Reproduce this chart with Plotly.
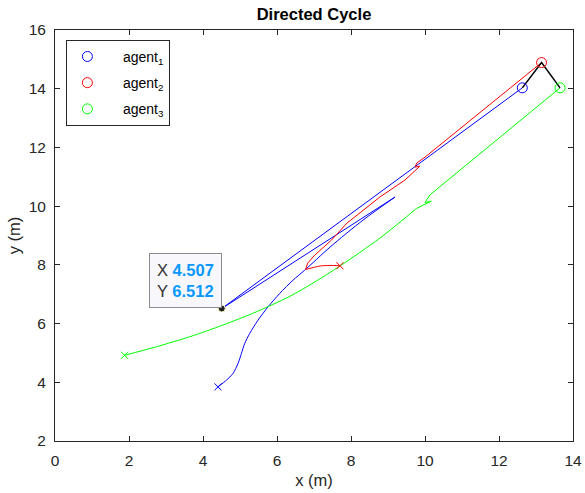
import plotly.graph_objects as go

# ---- data ----
blue_x = [4.405, 4.632, 4.811, 4.946, 5.038, 5.127, 5.262, 5.487, 5.758, 6.074, 6.434, 6.75, 7.43, 8.32, 9.19, 4.507, 12.63]
blue_y = [3.843, 4.071, 4.300, 4.640, 4.981, 5.322, 5.663, 6.116, 6.569, 7.026, 7.479, 7.82, 8.60, 9.52, 10.31, 6.512, 14.03]

red_x = [7.70, 7.43, 7.16, 6.89, 6.77, 6.83, 7.02, 7.24, 7.47, 7.89, 8.78, 9.46, 9.86, 9.73, 9.78, 10.00, 13.15]
red_y = [7.97, 7.98, 7.96, 7.88, 7.84, 8.06, 8.33, 8.57, 8.84, 9.42, 10.31, 10.89, 11.36, 11.33, 11.47, 11.67, 14.89]

green_x = [1.88, 2.74, 3.64, 4.54, 5.44, 6.35, 7.00, 7.70, 8.78, 9.77, 10.17, 10.00, 10.13, 13.65]
green_y = [4.92, 5.21, 5.55, 5.95, 6.40, 6.93, 7.40, 7.96, 8.91, 9.92, 10.17, 10.12, 10.38, 14.03]

names = ["agent<sub>1</sub>", "agent<sub>2</sub>", "agent<sub>3</sub>"]
colors = ["#0000ff", "#ff0000", "#00ff00"]

tip_x = [4.507]
tip_y = [6.512]

FONT = "Liberation Sans, Arial, sans-serif"
NB = "\u00a0"

fig = go.Figure()

paths = [(blue_x, blue_y), (red_x, red_y), (green_x, green_y)]
# index where each path's smooth part ends (sharp turns afterwards)
smooth_end = [14, 4, 9]

for (px, py), c, k in zip(paths, colors, smooth_end):
    fig.add_trace(go.Scatter(x=px[:k + 1], y=py[:k + 1], mode="lines",
                             line=dict(color=c, width=1, shape="spline", smoothing=0.8),
                             showlegend=False, hoverinfo="skip"))
    fig.add_trace(go.Scatter(x=px[k:], y=py[k:], mode="lines",
                             line=dict(color=c, width=1),
                             showlegend=False, hoverinfo="skip"))

# formation links (black)
fig.add_trace(go.Scatter(x=[blue_x[-1], red_x[-1], green_x[-1]],
                         y=[blue_y[-1], red_y[-1], green_y[-1]],
                         mode="lines", line=dict(color="black", width=1.5),
                         showlegend=False, hoverinfo="skip"))

for (px, py), c in zip(paths, colors):
    fig.add_trace(go.Scatter(x=[px[0]], y=[py[0]], mode="markers",
                             marker=dict(symbol="x-thin-open", size=7, color=c,
                                         line=dict(color=c, width=1)),
                             showlegend=False, hoverinfo="skip"))

for i, ((px, py), c, n) in enumerate(zip(paths, colors, names)):
    fig.add_trace(go.Scatter(x=[px[-1]], y=[py[-1]], mode="markers", name=NB * 4 + n,
                             legendgroup=f"g{i}",
                             marker=dict(symbol="circle-open", size=10, color=c,
                                         line=dict(color=c, width=1))))

# datatip dot
fig.add_trace(go.Scatter(x=tip_x, y=tip_y, mode="markers",
                         marker=dict(size=7, color="#222222",
                                     line=dict(color="#ffffc8", width=1)),
                         showlegend=False, hoverinfo="skip"))

val_col = "#0a98ff"
fig.add_annotation(
    x=tip_x[0], y=tip_y[0], xref="x", yref="y", showarrow=False,
    xanchor="right", yanchor="bottom", xshift=0, yshift=1,
    align="left",
    text=(f"<span style='color:#333333'>X</span> <b style='color:{val_col}'>{tip_x[0]:.3f}</b><br>"
          f"<span style='color:#333333'>Y</span> <b style='color:{val_col}'>{tip_y[0]:.3f}</b>"),
    font=dict(family=FONT, size=16.5, color="#333333"),
    bgcolor="#f8f8fc", bordercolor="#8c8c8c", borderwidth=1, borderpad=7,
)

axis_common = dict(
    showline=True, linecolor="#262626", linewidth=1, mirror="ticks",
    ticks="inside", ticklen=5, tickcolor="#262626", tickwidth=1,
    showgrid=False, zeroline=False, ticklabelstandoff=5, automargin=False,
    tickfont=dict(family=FONT, size=15.5, color="#262626"),
)

fig.update_layout(
    width=585, height=493,
    margin=dict(l=55, r=12, t=30, b=52),
    paper_bgcolor="white", plot_bgcolor="white",
    title=dict(text="<b>Directed Cycle</b>", x=0.5, xref="paper", xanchor="center",
               y=1, yref="paper", yanchor="bottom", pad=dict(b=10),
               font=dict(family=FONT, size=16.5, color="black")),
    xaxis=dict(range=[0, 14], dtick=2, tick0=0,
               title=dict(text="x (m)", standoff=6,
                          font=dict(family=FONT, size=16.5, color="#262626")),
               **axis_common),
    yaxis=dict(range=[2, 16], dtick=2, tick0=2,
               title=dict(text="y (m)", standoff=3,
                          font=dict(family=FONT, size=16.5, color="#262626")),
               **axis_common),
    legend=dict(x=0.022, y=0.976, xanchor="left", yanchor="top",
                bgcolor="white", bordercolor="#262626", borderwidth=1,
                font=dict(family=FONT, size=14, color="black"),
                tracegroupgap=5),
    showlegend=True,
)

fig.write_html("out.html")
